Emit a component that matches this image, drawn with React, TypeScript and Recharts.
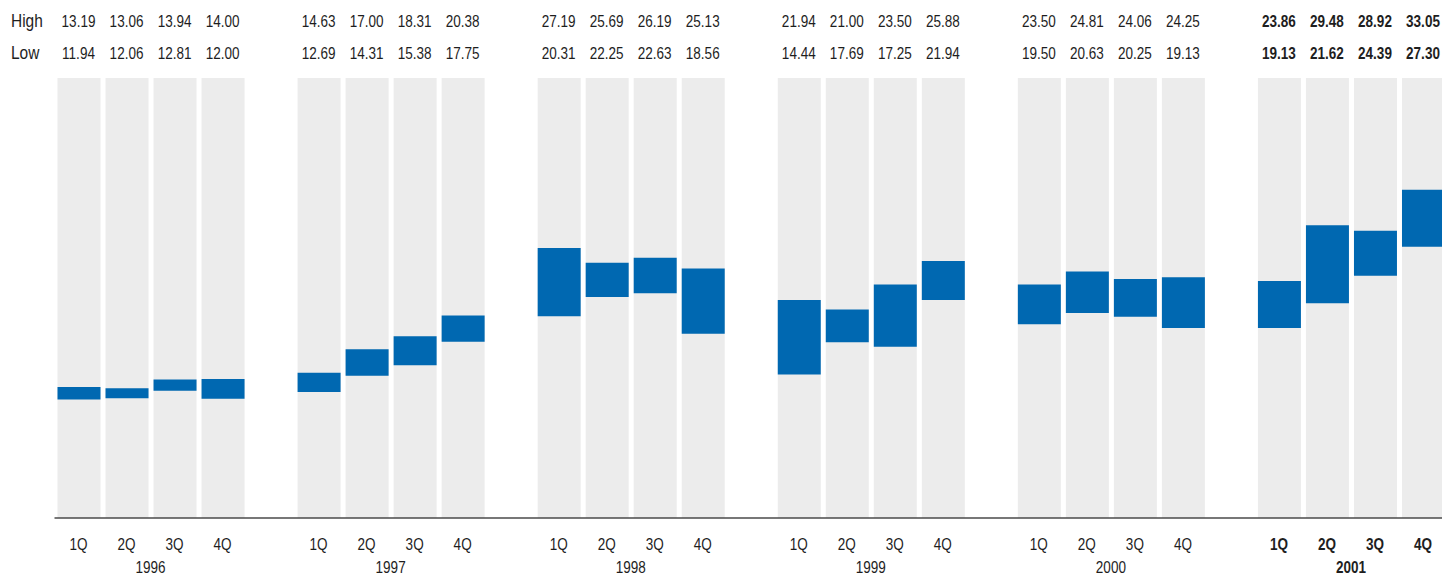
import React from "react";
import { BarChart, Bar, XAxis, YAxis } from "recharts";

// Quarterly share price range, 1996–2001
const years = ["1996", "1997", "1998", "1999", "2000", "2001"];
const quarters = ["1Q", "2Q", "3Q", "4Q"];

const highs = [
  [13.19, 13.06, 13.94, 14.0],
  [14.63, 17.0, 18.31, 20.38],
  [27.19, 25.69, 26.19, 25.13],
  [21.94, 21.0, 23.5, 25.88],
  [23.5, 24.81, 24.06, 24.25],
  [23.86, 29.48, 28.92, 33.05],
];

const lows = [
  [11.94, 12.06, 12.81, 12.0],
  [12.69, 14.31, 15.38, 17.75],
  [20.31, 22.25, 22.63, 18.56],
  [14.44, 17.69, 17.25, 21.94],
  [19.5, 20.63, 20.25, 19.13],
  [19.13, 21.62, 24.39, 27.3],
];

const rowLabels = ["High", "Low"];

const Y_MAX = 44.3;
const HIGHLIGHT_YEAR = "2001";

const FONT = '"Liberation Sans", Arial, sans-serif';
const FONT_SIZE = 16.5;
const SQUEEZE = 0.82; // condensed look from a regular face
const TEXT = "#1e1e1e";
const GREY = "#ececec";
const BLUE = "#0068b1";

type Row = {
  slot: string;
  year: string;
  quarter: string;
  high: number | null;
  low: number | null;
  bg: number | null;
  range: [number, number] | null;
};

// one slot per quarter plus an empty slot between years
const rows: Row[] = [];
years.forEach((year, yi) => {
  quarters.forEach((q, qi) => {
    rows.push({
      slot: `${year}-${q}`,
      year,
      quarter: q,
      high: highs[yi][qi],
      low: lows[yi][qi],
      bg: Y_MAX,
      range: [lows[yi][qi], highs[yi][qi]],
    });
  });
  if (yi < years.length - 1) {
    rows.push({ slot: `${year}-gap`, year, quarter: "", high: null, low: null, bg: null, range: null });
  }
});

const fmt = (v: number) => v.toFixed(2);

const CondText = ({
  x,
  y,
  bold,
  size = FONT_SIZE,
  squeeze = SQUEEZE,
  anchor = "middle",
  children,
}: {
  x: number;
  y: number;
  bold?: boolean;
  size?: number;
  squeeze?: number;
  anchor?: "start" | "middle" | "end";
  children: React.ReactNode;
}) => (
  <text
    transform={`translate(${x},${y}) scale(${squeeze},1)`}
    textAnchor={anchor}
    fontFamily={FONT}
    fontSize={size}
    fontWeight={bold ? 700 : 400}
    fill={TEXT}
  >
    {children}
  </text>
);

const TopTick = (props: any) => {
  const { x, payload } = props;
  const row = rows[payload.index];
  if (!row || row.high == null || row.low == null) return null;
  const bold = row.year === HIGHLIGHT_YEAR;
  return (
    <g>
      <CondText x={x} y={27} bold={bold}>{fmt(row.high)}</CondText>
      <CondText x={x} y={59} bold={bold}>{fmt(row.low)}</CondText>
      {payload.index === 0 &&
        rowLabels.map((label, i) => (
          <CondText key={label} x={11} y={27 + i * 32} anchor="start" size={18} squeeze={0.86}>
            {label}
          </CondText>
        ))}
    </g>
  );
};

const BottomTick = (props: any) => {
  const { x, payload } = props;
  const row = rows[payload.index];
  if (!row || !row.quarter) return null;
  const bold = row.year === HIGHLIGHT_YEAR;
  return (
    <g>
      <CondText x={x} y={550} bold={bold}>{row.quarter}</CondText>
      {/* year sits centred between 2Q and 3Q */}
      {row.quarter === "2Q" && (
        <CondText x={x + 24} y={573} bold={bold}>{row.year}</CondText>
      )}
    </g>
  );
};

export default function App() {
  return (
    <div
      style={{
        position: "absolute",
        left: 0,
        top: 0,
        width: 1442,
        height: 575,
        overflow: "hidden",
        background: "#fff",
      }}
    >
      <BarChart
        width={1447}
        height={575}
        data={rows}
        margin={{ top: 0, right: 0, bottom: 0, left: 54.5 }}
        barGap={-43}
        barSize={43}
        barCategoryGap={0}
      >
        <XAxis
          xAxisId="top"
          dataKey="slot"
          orientation="top"
          height={78}
          axisLine={false}
          tickLine={false}
          interval={0}
          tick={<TopTick />}
        />
        <XAxis
          dataKey="slot"
          height={57}
          axisLine={{ stroke: "#4a4a4a", strokeWidth: 1.5 }}
          tickLine={false}
          interval={0}
          tick={<BottomTick />}
        />
        <YAxis hide domain={[0, Y_MAX]} />
        <Bar dataKey="bg" fill={GREY} isAnimationActive={false} />
        <Bar dataKey="range" fill={BLUE} isAnimationActive={false} />
      </BarChart>
    </div>
  );
}
